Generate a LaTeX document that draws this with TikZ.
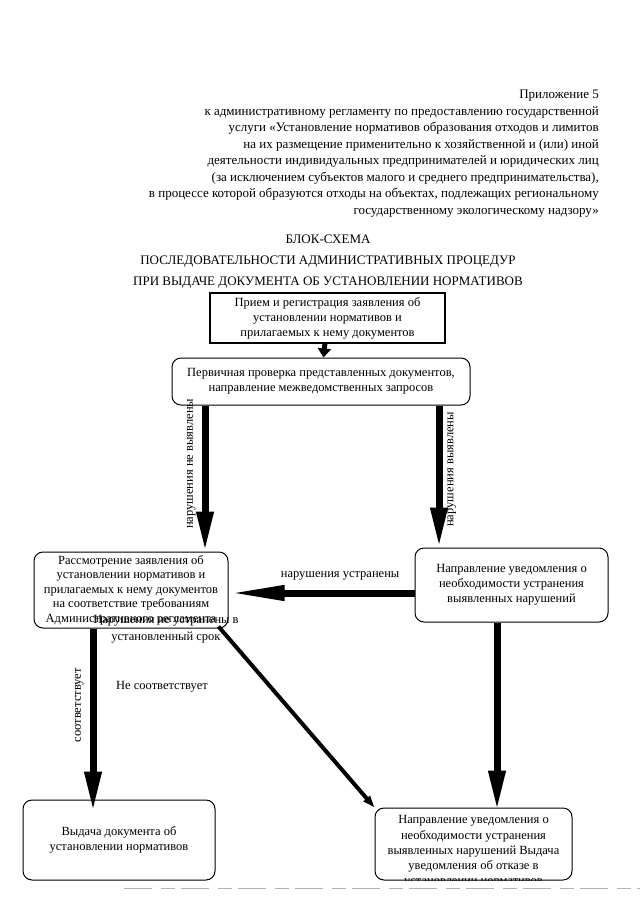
\documentclass[tikz,border=0pt]{standalone}
\usepackage{fontspec}
\setmainfont{Liberation Serif}
\usetikzlibrary{arrows.meta,calc}

\tikzset{
	blok/.style={draw, line width=1pt, rounded corners=9pt, align=center, inner xsep=2pt, inner ysep=1pt, font=\fontsize{12.5}{15}\selectfont},
	priem/.style={draw, line width=1.6pt, align=center, inner sep=2pt, font=\fontsize{12.5}{15}\selectfont},
	strelka/.style={line width=7pt, -{Triangle[length=40pt,width=16pt]}},
	korotkaya/.style={line width=5pt, -{Triangle[length=9pt,width=13pt]}},
	diag/.style={line width=4pt, -{Triangle[length=12pt,width=8pt]}},
	podpis/.style={font=\fontsize{12.5}{14}\selectfont, inner sep=1pt},
}

\begin{document}
\begin{tikzpicture}[x=1pt,y=-1pt]
		\useasboundingbox (0,0) rectangle (640,905);
		% shapka
		\node [anchor=north east, align=right, inner sep=0pt, font=\fontsize{13}{16.5}\selectfont] (shapka) at (599,90)
		{Приложение 5\\
			к административному регламенту по предоставлению государственной\\
			услуги «Установление нормативов образования отходов и лимитов\\
			на их размещение применительно к хозяйственной и (или) иной\\
			деятельности индивидуальных предпринимателей и юридических лиц\\
			(за исключением субъектов малого и среднего предпринимательства),\\
			в процессе которой образуются отходы на объектах, подлежащих региональному\\
			государственному экологическому надзору»};
		\node [align=center, inner sep=0pt, font=\fontsize{13}{21}\selectfont] (zagolovok) at (328,262)
		{БЛОК-СХЕМА\\
			ПОСЛЕДОВАТЕЛЬНОСТИ АДМИНИСТРАТИВНЫХ ПРОЦЕДУР\\
			ПРИ ВЫДАЧЕ ДОКУМЕНТА ОБ УСТАНОВЛЕНИИ НОРМАТИВОВ};
		% bloki
		\node [priem, minimum width=235pt, minimum height=50pt] (priem) at (327.5,318)
		{Прием и регистрация заявления об\\ установлении нормативов и\\ прилагаемых к нему документов};
		\node [blok, minimum width=298pt, minimum height=47pt] (proverka) at (321,381.5)
		{Первичная проверка представленных документов,\\ направление межведомственных запросов};
		\node [blok, minimum width=194pt, minimum height=76pt, font=\fontsize{12.5}{14.5}\selectfont] (rassmotr) at (131,590)
		{Рассмотрение заявления об\\ установлении нормативов и\\ прилагаемых к нему документов\\ на соответствие требованиям\\ Административного регламента};
		\node [blok, minimum width=193pt, minimum height=74pt] (uvedoml) at (511.5,585)
		{Направление уведомления о\\ необходимости устранения\\ выявленных нарушений};
		\node [blok, minimum width=192pt, minimum height=80pt] (vydacha) at (119,840)
		{Выдача документа об\\ установлении нормативов};
		\node [blok, minimum width=197pt, minimum height=72pt] (otkaz) at (473.5,844) {};
		\begin{scope}
			\clip[rounded corners=9pt] (otkaz.north west) rectangle (otkaz.south east);
			\node [align=center, inner sep=0pt, font=\fontsize{12.5}{15.2}\selectfont, anchor=north] (otkaztekst) at ($(otkaz.north)+(0,8)$)
			{Направление уведомления о\\ необходимости устранения\\ выявленных нарушений Выдача\\ уведомления об отказе в\\ установлении нормативов};
		\end{scope}
		% strelki
		\path[korotkaya] (priem) edge (proverka);
		\path[strelka]
		(proverka.south -| 205,0) edge node [podpis, rotate=90, above=5pt, pos=0.4] {нарушения не выявлены} (rassmotr.north -| 205,0)
		(proverka.south -| 439,0) edge node [podpis, rotate=90, below=4pt, pos=0.45] {нарушения выявлены} (uvedoml.north -| 439,0)
		(rassmotr.south -| 93,0) edge node [podpis, rotate=90, above=5pt, pos=0.42] {соответствует} ($(vydacha.north -| 93,0)+(0,12)$)
		(uvedoml.south -| 497,0) edge ($(otkaz.north -| 497,0)+(0,3)$)
		;
		\path[strelka, -{Triangle[length=56pt,width=14pt]}]
		(uvedoml.west |- 0,593) edge node [podpis, above=8pt, pos=0.4] {нарушения устранены} (rassmotr.east |- 0,593);
		\path[diag] (rassmotr.south east) ++(-10,-2) edge (otkaz.north west);
		\node [podpis] (nesootv) at (162,687) {Не соответствует};
		\node [podpis, align=center, font=\fontsize{12.5}{17}\selectfont] (nearush) at (166,629) {Нарушения не устранены в\\ установленный срок};
		% sled skana
		\draw [gray!60, line width=0.6pt, dash pattern=on 28pt off 9pt on 14pt off 6pt] (124,888) -- (640,888);
\end{tikzpicture}
\end{document}
